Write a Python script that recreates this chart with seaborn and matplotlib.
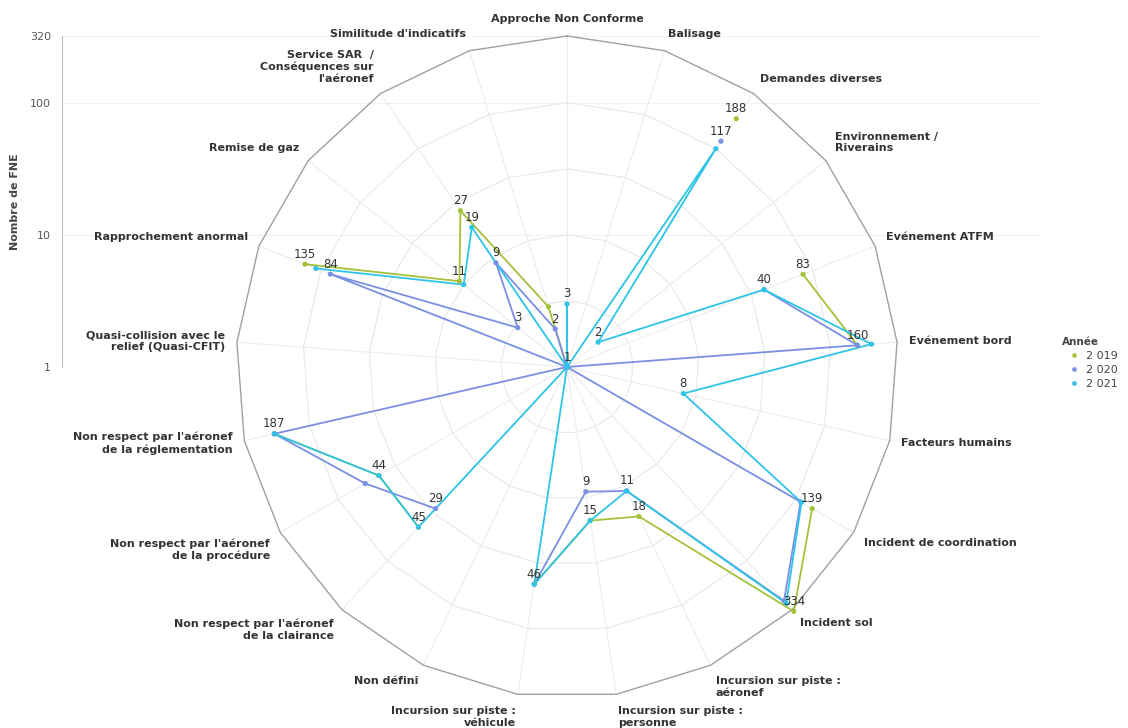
import numpy as np
import pandas as pd
import matplotlib
matplotlib.use("Agg")
import matplotlib.pyplot as plt
import seaborn as sns

# Event categories, clockwise from the top
categories = [
    "Approche Non Conforme", "Balisage", "Demandes diverses",
    "Environnement /\nRiverains", "Evénement ATFM", "Evénement bord",
    "Facteurs humains", "Incident de coordination", "Incident sol",
    "Incursion sur piste :\naéronef", "Incursion sur piste :\npersonne",
    "Incursion sur piste :\nvéhicule", "Non défini",
    "Non respect par l'aéronef\nde la clairance",
    "Non respect par l'aéronef\nde la procédure",
    "Non respect par l'aéronef\nde la réglementation",
    "Quasi-collision avec le\nrelief (Quasi-CFIT)",
    "Rapprochement anormal", "Remise de gaz",
    "Service SAR  /\nConséquences sur\nl'aéronef",
    "Similitude d'indicatifs",
]

nan = np.nan
years = ["2 019", "2 020", "2 021"]
fne_2019 = [1, nan, 188, nan, 83, 160, nan, 139, 334, 18, 15, 46, nan, 45, 44, 187, nan, 135, 11, 27, 3]
fne_2020 = [1, nan, 117, nan, 40, 160, 1, 110, 260, 11, 9, 46, nan, 29, 58, 187, 1, 84, 3, 9, 2]
fne_2021 = [3, 1, 100, 2, 40, 205, 8, 112, 275, 11, 15, 46, 1, 45, 44, 187, nan, 110, 10, 19, 1]
series = [fne_2019, fne_2020, fne_2021]

palette = ["#a3c23a", "#7b8fe3", "#2ec4e6"]
r_ticks = [1, 10, 100, 320]
ring_levels = [10 ** 0.5, 10, 10 ** 1.5, 100]

W, H = 1128, 728
fig = plt.figure(figsize=(W / 100, H / 100), dpi=100)
sns.set_style("white")
plt.rcParams["font.family"] = ["DejaVu Sans"]

n = len(categories)
theta = np.arange(n) * 2 * np.pi / n

# long-form tables: points, and line runs broken at missing values
pts, lines = [], []
seg = 0
for yr, vals in zip(years, series):
    vals = list(vals) + [vals[0]]
    th = list(theta) + [2 * np.pi]
    seg += 1
    for i, (t, v) in enumerate(zip(th, vals)):
        if np.isnan(v):
            seg += 1
            continue
        lines.append({"year": yr, "theta": t, "value": v, "seg": seg})
        if i < n:
            pts.append({"year": yr, "theta": t, "value": v, "cat": i})
df_lines = pd.DataFrame(lines)
df_pts = pd.DataFrame(pts)

# left value axis
cx, cy, R = 567, 367, 331
axl = fig.add_axes([62 / W, (H - cy) / H, (1040 - 62) / W, R / H])
axl.set_yscale("log")
axl.set_ylim(1, 320)
axl.set_yticks(r_ticks)
axl.set_yticklabels([str(t) for t in r_ticks])
axl.minorticks_off()
axl.set_xticks([])
for s in ["top", "right", "bottom"]:
    axl.spines[s].set_visible(False)
axl.spines["left"].set_color("#bdbdbd")
axl.tick_params(axis="y", length=0, pad=8, labelsize=8, labelcolor="#555555")
axl.grid(axis="y", color="#f1f1f1", lw=0.8)
axl.set_ylabel("Nombre de FNE", fontsize=8, fontweight="bold", color="#444444", labelpad=7)
axl.patch.set_alpha(0)

# radar
ax = fig.add_axes([(cx - R) / W, (H - cy - R) / H, 2 * R / W, 2 * R / H], projection="polar")
ax.set_theta_zero_location("N")
ax.set_theta_direction(-1)
ax.set_rscale("log")
ax.set_rlim(1, 320)
ax.grid(False)
ax.set_xticks([])
ax.set_yticks([])
ax.spines["polar"].set_visible(False)
ax.patch.set_alpha(0)

closed = np.append(theta, 2 * np.pi)
for lvl in ring_levels:
    ax.plot(closed, np.full(n + 1, lvl), color="#e8e8e8", lw=0.8, zorder=1)
for t in theta:
    ax.plot([t, t], [1, 320], color="#ececec", lw=0.8, zorder=1)
ax.plot(closed, np.full(n + 1, 320), color="#a0a0a0", lw=1.0, zorder=1)

sns.lineplot(data=df_lines, x="theta", y="value", hue="year", units="seg",
             estimator=None, sort=False, palette=palette, hue_order=years,
             linewidth=1.3, legend=False, ax=ax, zorder=3)
sns.scatterplot(data=df_pts, x="theta", y="value", hue="year", palette=palette,
                hue_order=years, s=14, edgecolor="none", ax=ax, zorder=4,
                clip_on=False)
ax.set_rlim(1, 320)
ax.set_xlabel("")
ax.set_ylabel("")
for ln in ax.lines:
    ln.set_clip_on(False)

# category labels around the outer ring
off = 12 / (2 * R)
for t, lab in zip(theta, categories):
    s, c = np.sin(t), np.cos(t)
    ha = "center" if abs(s) < 0.1 else ("left" if s > 0 else "right")
    va = "center" if abs(c) < 0.3 else ("bottom" if c > 0 else "top")
    ax.text(0.5 + (0.5 + off) * s, 0.5 + (0.5 + off) * c, lab, transform=ax.transAxes,
            ha=ha, va=va, fontsize=8, fontweight="bold", color="#333333",
            clip_on=False)

# value labels, skipping ones that would sit on top of another
placed = []
for i in range(n):
    for vals in series:
        v = vals[i]
        if np.isnan(v):
            continue
        px, py = ax.transData.transform((theta[i], v))
        if any(np.hypot(px - qx, py - qy) < 19 for qx, qy in placed):
            continue
        placed.append((px, py))
        ax.annotate(f"{v:g}", (theta[i], v), xytext=(0, 2.5), textcoords="offset points",
                    ha="center", va="bottom", fontsize=8.5, color="#333333", zorder=5,
                    annotation_clip=False)

sns.move_legend(ax, loc="upper left", bbox_to_anchor=(1058 / W, 1 - 333 / H),
                bbox_transform=fig.transFigure, title="Année", frameon=False,
                fontsize=8, title_fontsize=7.5, handletextpad=0.1, labelspacing=0.35,
                markerscale=0.9, borderaxespad=0)
leg = ax.get_legend()
leg.get_title().set_fontweight("bold")
leg.get_title().set_color("#444444")
leg._legend_box.align = "left"
for txt in leg.get_texts():
    txt.set_color("#444444")

fig.savefig("out.png", dpi=100)
